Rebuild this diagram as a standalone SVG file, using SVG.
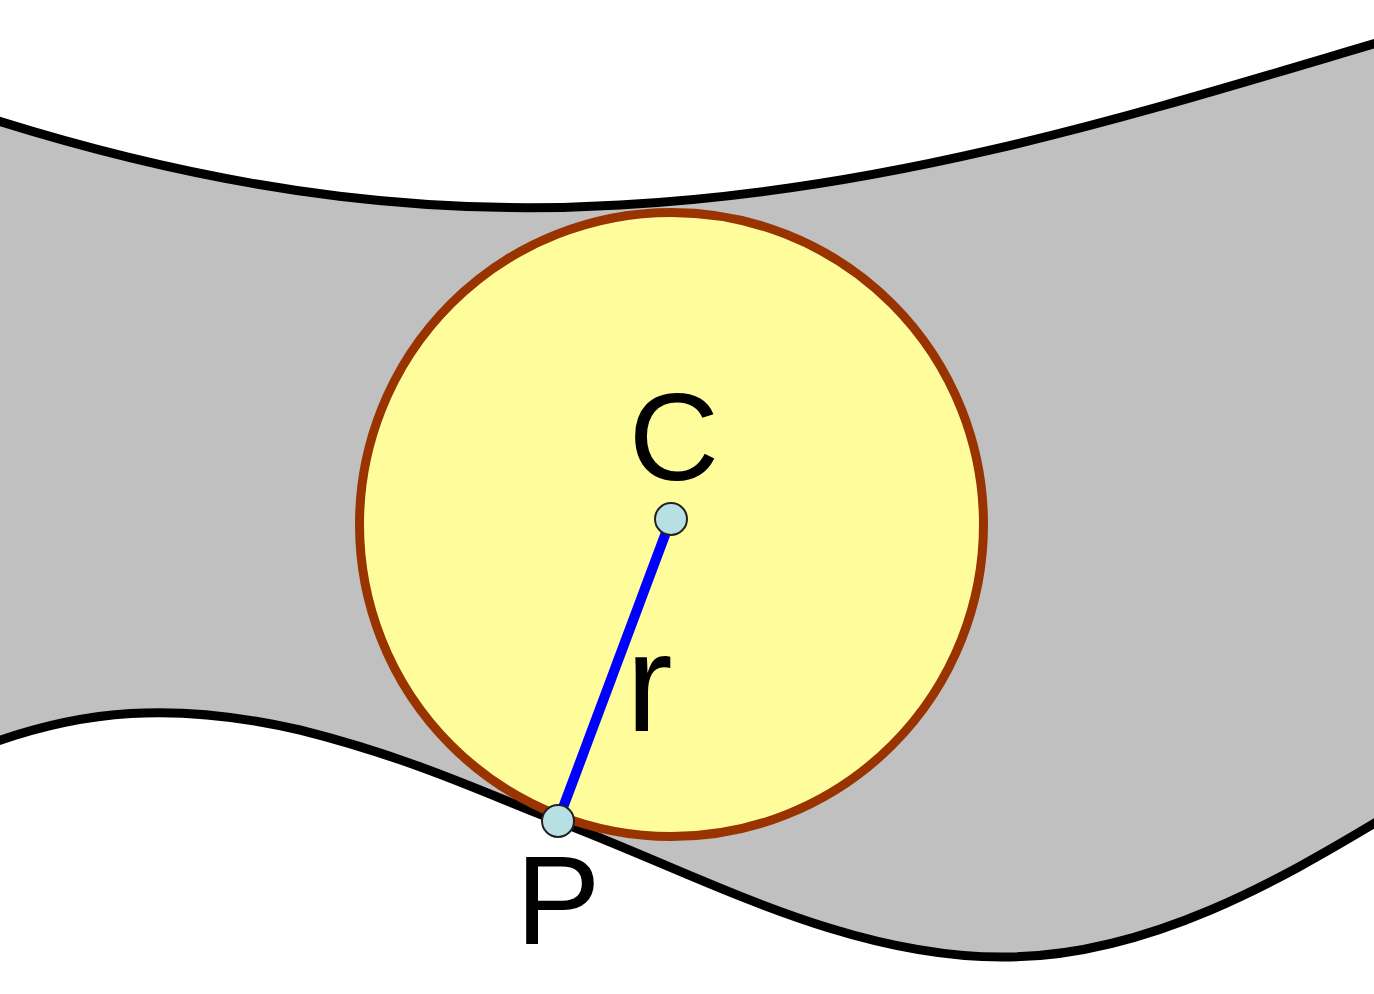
<svg xmlns="http://www.w3.org/2000/svg" width="1374" height="994" viewBox="0 0 1374 994">
<style>
.edge{fill:none;stroke:#000;stroke-width:9}
.lbl{font-family:"Liberation Sans",Arial,sans-serif;fill:#000}
.pt{fill:#b8e0e4;stroke:#222;stroke-width:2}
</style>
<rect width="1374" height="994" fill="#fff"/>
<g id="band">
<path d="M -5,120 C 250,200 450,215 620,205 C 900,190 1150,110 1380,42 L 1380,820 C 1280,880 1150,955 1010,957 C 850,960 700,875 560,822 C 500,800 420,760 300,730 C 170,700 80,712 -5,742 Z" fill="#c0c0c0"/>
<path class="edge" d="M -5,120 C 250,200 450,215 620,205 C 900,190 1150,110 1380,42"/>
<path class="edge" d="M -5,742 C 80,712 170,700 300,730 C 420,760 500,800 560,822 C 700,875 850,960 1010,957 C 1150,955 1280,880 1380,820"/>
</g>
<g id="circle">
<circle cx="671.5" cy="524.5" r="312" fill="#fffc9c" stroke="#993300" stroke-width="9"/>
</g>
<g id="connectors">
<line x1="671" y1="519" x2="558" y2="821" stroke="#0000ff" stroke-width="10"/>
</g>
<g id="C">
<circle class="pt" cx="671" cy="519" r="16"/>
<text class="lbl" x="674" y="480" font-size="125" text-anchor="middle">C</text>
</g>
<g id="P">
<circle class="pt" cx="558" cy="821" r="16"/>
<text class="lbl" x="558" y="944" font-size="127" text-anchor="middle">P</text>
</g>
<g id="r">
<text class="lbl" x="626" y="731" font-size="140">r</text>
</g>
</svg>
